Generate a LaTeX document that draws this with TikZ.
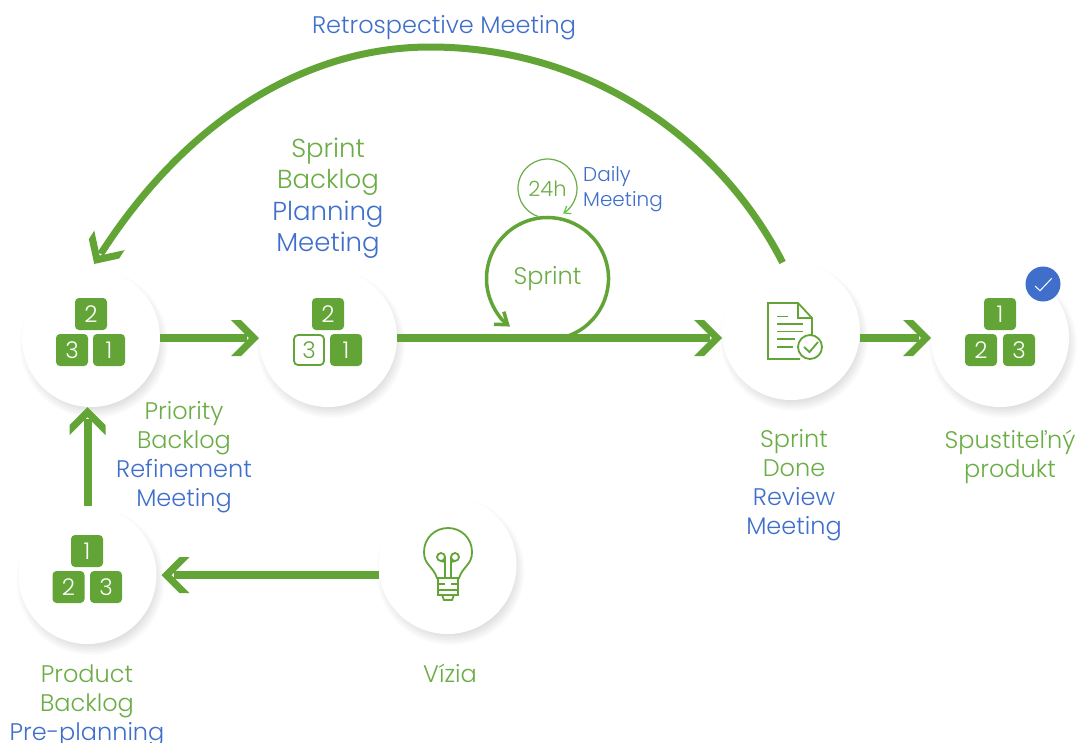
\documentclass[tikz,border=0pt]{standalone}
\usepackage{fontspec}
\setmainfont{Poppins Light}
\usetikzlibrary{arrows.meta}
\definecolor{leaf}{HTML}{62A536}
\definecolor{leaftext}{HTML}{6BAD45}
\definecolor{sky}{HTML}{3F6FCB}
\definecolor{lime}{HTML}{57C93A}
\pgfdeclarearrow{
  name=Chevron,
  setup code={
    \pgfarrowssettipend{0pt}
    \pgfarrowssetlineend{-12pt}
    \pgfarrowssetvisualbackend{-28pt}
    \pgfarrowshullpoint{0pt}{0pt}
    \pgfarrowshullpoint{-28pt}{18pt}
    \pgfarrowshullpoint{-28pt}{-18pt}
  },
  drawing code={
    \pgfpathmoveto{\pgfpoint{0pt}{0pt}}
    \pgfpathlineto{\pgfpoint{-18pt}{18pt}}
    \pgfpathlineto{\pgfpoint{-28pt}{18pt}}
    \pgfpathlineto{\pgfpoint{-10pt}{0pt}}
    \pgfpathlineto{\pgfpoint{-28pt}{-18pt}}
    \pgfpathlineto{\pgfpoint{-18pt}{-18pt}}
    \pgfpathclose
    \pgfusepathqfill
  }
}
\tikzset{
  stage/.style={circle,fill=white,minimum size=138pt,inner sep=0pt,outer sep=0pt},
  block/.style={rectangle,rounded corners=4pt,fill=leaf,text=white,minimum size=32pt,inner sep=0pt,font=\fontsize{23}{23}\selectfont},
  openblock/.style={block,fill=white,draw=leaf,line width=1.8pt,text=leaf,minimum size=30pt},
  flow/.style={leaf,line width=8pt,-Chevron},
  icon/.style={leaf,line width=1.8pt},
  label/.style={inner sep=0pt,align=center,text=leaftext,font=\fontsize{24}{29}\selectfont},
  bigl/.style={label,font=\fontsize{26}{31.5}\selectfont}
}
\begin{document}
\begin{tikzpicture}[x=1pt,y=-1pt]
  \fill[white] (0,0) rectangle (1078,742);
  \useasboundingbox (0,0) rectangle (1078,742);
  \foreach \cx/\cy in {91/338,328/338,791/331,1000/338,87.5/575,447.5/565}{
    \foreach \d [evaluate=\d as \r using 62+\d*1.5] in {1,...,8}
      \fill[black,opacity=0.014] (\cx+3,\cy+6) circle[radius=\r pt];
  }
  \node[stage] (priority) at (91,338) {};
  \node[stage] (planning) at (328,338) {};
  \node[stage] (review) at (791,331) {};
  \node[stage] (product) at (1000,338) {};
  \node[stage] (backlog) at (87.5,575) {};
  \node[stage] (vizia) at (447.5,565) {};

  \draw[flow] (priority.east) -- (planning.west);
  \draw[flow] (planning.east) -- (planning.east -| review.west);
  \draw[flow] (review.east |- product.west) -- (product.west);
  \draw[flow,shorten >=5pt] (vizia.west |- backlog.east) -- (backlog.east);
  \draw[flow] (backlog.north) -- (backlog.north |- priority.south);
  \draw[flow,line width=7pt,shorten >=6pt] (review.97) .. controls (720,140) and (590,47) .. (430,47) .. controls (310,47) and (190,115) .. (priority.north);

  \node[block] (prioTwo) at (91,314) {2};
  \node[block] (prioThree) at (72,350) {3};
  \node[block] (prioOne) at (109,350) {1};
  \node[block] (planTwo) at (328,314) {2};
  \node[openblock] (planThree) at (309,350) {3};
  \node[block] (planOne) at (346,350) {1};
  \node[block] (doneOne) at (1000,314) {1};
  \node[block] (doneTwo) at (981,350) {2};
  \node[block] (doneThree) at (1019,350) {3};
  \node[block] (backOne) at (87,551) {1};
  \node[block] (backTwo) at (68.5,587) {2};
  \node[block] (backThree) at (106,587) {3};

  \node[circle,minimum size=122pt,inner sep=0pt,outer sep=0pt,text=leaftext,font=\fontsize{24}{24}\selectfont] (sprint) at (547.5,278.5) {Sprint};
  \draw[leaf,line width=3.5pt,-{Straight Barb[length=11pt,width=16pt]}] (sprint.-71) arc[start angle=-71,end angle=232,radius=61pt];
  \node[circle,minimum size=59pt,inner sep=0pt,outer sep=0pt,text=leaftext,font=\fontsize{21}{21}\selectfont] (daily) at (547.5,188.5) {24h};
  \draw[leaftext,line width=1.2pt,-{Straight Barb[length=6pt,width=9pt,color=lime]}] (daily.251) arc[start angle=251,end angle=-58,radius=29.5pt];

  \draw[icon] (800,359) -- (768,359) -- (768,303) -- (798,303) -- (812,318) -- (812,335);
  \draw[icon] (798,303) -- (798,318) -- (812,318);
  \draw[icon] (777,316.5) -- (788,316.5);
  \draw[icon] (777,324) -- (803,324);
  \draw[icon] (777,331.5) -- (803,331.5);
  \draw[icon] (777,339) -- (795,339);
  \draw[icon] (777,347) -- (793,347);
  \draw[icon] (810,347) circle[radius=12pt];
  \draw[icon] (804,347) -- (809.5,352) -- (818,342);

  \draw[icon] (437,578) .. controls (433,566) and (424,565) .. (424,552) .. controls (424,538) and (435,528) .. (448,528) .. controls (461,528) and (472,538) .. (472,552) .. controls (472,565) and (463,566) .. (459,578) -- cycle;
  \draw[icon] (438,578) -- (438,595) -- (458,595) -- (458,578);
  \draw[icon] (438,584) -- (445,584);
  \draw[icon] (451,584) -- (458,584);
  \draw[icon] (438,590) -- (458,590);
  \draw[icon] (442,595) -- (444,600) -- (452,600) -- (454,595);
  \draw[icon] (441,557) circle[radius=4pt];
  \draw[icon] (455,557) circle[radius=4pt];
  \draw[icon] (445,557) -- (445,578);
  \draw[icon] (451,557) -- (451,578);
  \draw[icon] (441,561) -- (445,562);
  \draw[icon] (455,561) -- (451,562);

  \node[circle,fill=sky,minimum size=35pt,inner sep=0pt] (badge) at (1043,284) {};
  \draw[white,line width=1pt] (1035,286) -- (1040,290.7) -- (1051.7,278.3);

  \node[label,text=sky] (retro) at (444,28) {Retrospective Meeting};
  \node[bigl] (planText) at (328,198) {Sprint\\Backlog\\\textcolor{sky}{Planning}\\\textcolor{sky}{Meeting}};
  \node[label] (prioText) at (184,457) {Priority\\Backlog\\\textcolor{sky}{Refinement}\\\textcolor{sky}{Meeting}};
  \node[label] (reviewText) at (794,485) {Sprint\\Done\\\textcolor{sky}{Review}\\\textcolor{sky}{Meeting}};
  \node[label] (doneText) at (1010,456.5) {Spustiteľný\\produkt};
  \node[label] (viziaText) at (450,673) {Vízia};
  \node[label] (backText) at (87,706) {Product\\Backlog\\\textcolor{sky}{Pre-planning}};
  \node[inner sep=0pt,align=left,text=sky,font=\fontsize{20}{25}\selectfont,anchor=west] (dailyText) at (583,189.5) {Daily\\Meeting};
\end{tikzpicture}
\end{document}
